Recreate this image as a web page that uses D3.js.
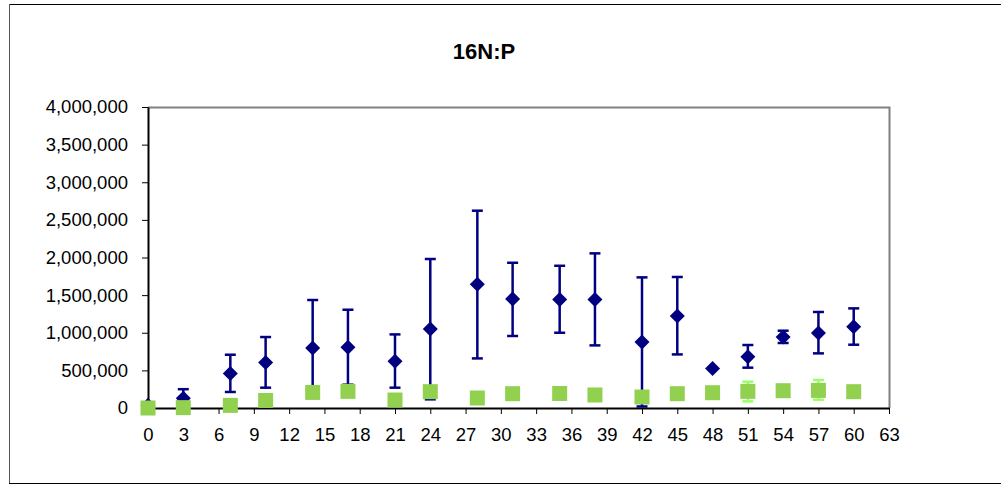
<!DOCTYPE html>
<html>
<head>
<meta charset="utf-8">
<script src="https://cdn.jsdelivr.net/npm/d3@7"></script>
<style>
  body { margin: 0; background: #fff; }
  text { font-family: "Liberation Sans", Arial, sans-serif; fill: #000; }
</style>
</head>
<body>
<div id="chart"></div>
<script>
// sampling days
var days = [0, 3, 7, 10, 14, 17, 21, 24, 28, 31, 35, 38, 42, 45, 48, 51, 54, 57, 60];

// blue series (diamonds) with error bars
var blueMean = [35000, 130000, 460000, 606000, 797000, 806000, 620000, 1050000, 1643000, 1449000, 1443000, 1443000, 877000, 1223000, 526000, 682000, 943000, 997000, 1080000];
var blueHigh = [45000, 250000, 708000, 943000, 1435000, 1306000, 978000, 1980000, 2622000, 1930000, 1890000, 2055000, 1736000, 1741000, 526000, 837000, 1027000, 1276000, 1324000];
var blueLow = [25000, 20000, 213000, 270000, 160000, 310000, 270000, 115000, 659000, 957000, 1000000, 832000, 20000, 712000, 526000, 536000, 864000, 726000, 841000];

// green series (squares) with error bars
var greenMean = [0, 5000, 35000, 100000, 207000, 221000, 106000, 217000, 133000, 190000, 193000, 173000, 146000, 190000, 203000, 221000, 230000, 234000, 217000];
var greenHigh = [10000, 15000, 60000, 130000, 240000, 250000, 130000, 250000, 160000, 220000, 220000, 200000, 170000, 215000, 230000, 350000, 270000, 372000, 250000];
var greenLow = [0, 0, 10000, 70000, 175000, 190000, 80000, 185000, 105000, 160000, 165000, 145000, 120000, 165000, 175000, 88000, 190000, 110000, 185000];

var xTicks = d3.range(0, 64, 3);
var yTicks = d3.range(0, 4000001, 500000);

var width = 1001, height = 485;
var plot = { left: 148, right: 889, top: 107, bottom: 408 };

var svg = d3.select("#chart").append("svg")
  .attr("width", width)
  .attr("height", height);

// outer frame
svg.append("line").attr("x1", 9).attr("x2", width).attr("y1", 4.5).attr("y2", 4.5)
  .attr("stroke", "#000").attr("stroke-width", 1);
svg.append("line").attr("x1", 9.5).attr("x2", 9.5).attr("y1", 4).attr("y2", 484)
  .attr("stroke", "#555").attr("stroke-width", 1);
svg.append("line").attr("x1", 9).attr("x2", width).attr("y1", 483.5).attr("y2", 483.5)
  .attr("stroke", "#000").attr("stroke-width", 1);

var x = d3.scaleLinear().domain([0, 63]).range([plot.left, plot.right]);
var y = d3.scaleLinear().domain([0, 4000000]).range([plot.bottom, plot.top]);

// title
svg.append("text")
  .attr("x", 484).attr("y", 59)
  .attr("text-anchor", "middle")
  .style("font-size", "22px")
  .style("font-weight", "bold")
  .text("16N:P");

// plot border (top & right gray)
svg.append("path")
  .attr("d", `M${plot.left},${plot.top + 0.5}H${plot.right + 0.5}V${plot.bottom}`)
  .attr("fill", "none").attr("stroke", "#808080").attr("stroke-width", 2);

// y axis
var yAxis = svg.append("g")
  .attr("transform", `translate(${plot.left},0)`)
  .call(d3.axisLeft(y).tickValues(yTicks).tickFormat(d3.format(",")).tickSize(6).tickSizeOuter(0).tickPadding(14));
yAxis.select(".domain").attr("stroke", "#000").attr("stroke-width", 2);
yAxis.selectAll(".tick line").attr("stroke", "#000");
yAxis.selectAll("text").style("font-size", "18.5px").attr("fill", "#000");

// x axis
var xAxis = svg.append("g")
  .attr("transform", `translate(0,${plot.bottom})`)
  .call(d3.axisBottom(x).tickValues(xTicks).tickSize(6).tickSizeOuter(0).tickPadding(8));
xAxis.select(".domain").attr("stroke", "#000").attr("stroke-width", 2);
xAxis.selectAll(".tick line").attr("stroke", "#000");
xAxis.selectAll("text").style("font-size", "18.5px").attr("fill", "#000").attr("dy", "1em");

var blueData = days.map(function(d, i) {
  return { day: d, mean: blueMean[i], hi: blueHigh[i], lo: blueLow[i] };
});
var greenData = days.map(function(d, i) {
  return { day: d, mean: greenMean[i], hi: greenHigh[i], lo: greenLow[i] };
});

// error bars with caps
function drawErrors(data, color, width) {
  var g = svg.append("g").attr("stroke", color).attr("stroke-width", width).attr("fill", "none");
  data.forEach(function(d) {
    if (d.hi === d.lo) return;
    var cx = x(d.day);
    g.append("line").attr("x1", cx).attr("x2", cx).attr("y1", y(d.hi)).attr("y2", y(d.lo));
    g.append("line").attr("x1", cx - 5.5).attr("x2", cx + 5.5).attr("y1", y(d.hi)).attr("y2", y(d.hi));
    g.append("line").attr("x1", cx - 5.5).attr("x2", cx + 5.5).attr("y1", y(d.lo)).attr("y2", y(d.lo));
  });
}

drawErrors(blueData, "#000080", 2.5);

// diamonds
var ds = 7.5;
svg.append("g").selectAll("path")
  .data(blueData)
  .enter()
  .append("path")
  .attr("d", function(d) {
    var cx = x(d.day), cy = y(d.mean);
    return `M${cx},${cy - ds}L${cx + ds},${cy}L${cx},${cy + ds}L${cx - ds},${cy}Z`;
  })
  .attr("fill", "#000080");

drawErrors(greenData, "#99ff66", 2.5);

// squares
var sq = 15;
svg.append("g").selectAll("rect")
  .data(greenData)
  .enter()
  .append("rect")
  .attr("x", d => x(d.day) - sq / 2)
  .attr("y", d => y(d.mean) - sq / 2)
  .attr("width", sq)
  .attr("height", sq)
  .attr("fill", "#92d050");
</script>
</body>
</html>
